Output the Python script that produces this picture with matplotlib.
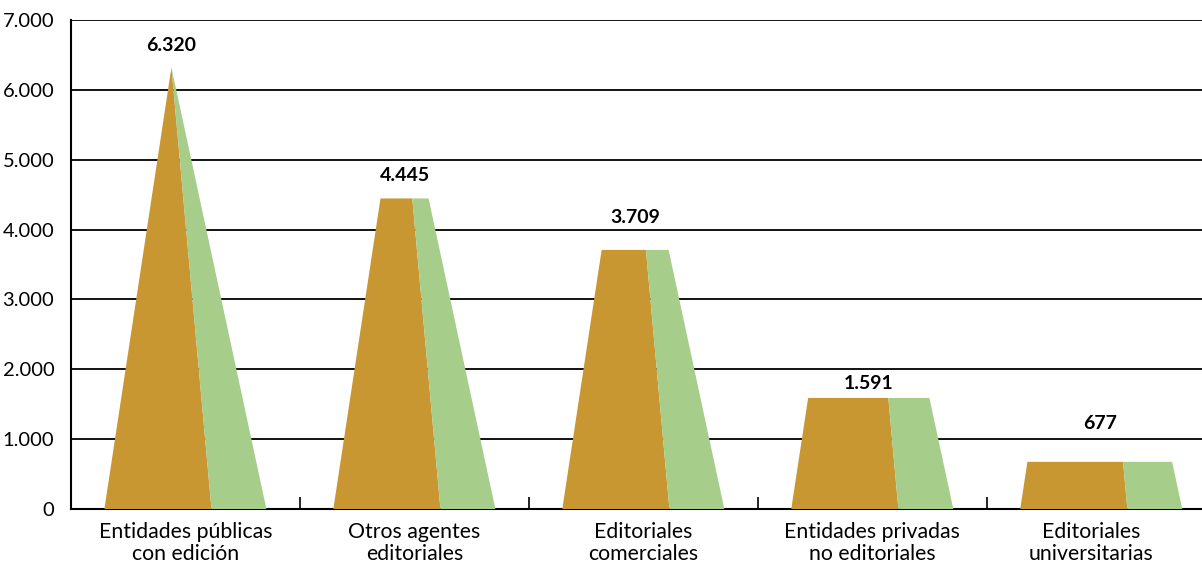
import matplotlib.pyplot as plt
import matplotlib.transforms as mtransforms
import numpy as np

# Data
categories = ['Entidades públicas\ncon edición', 'Otros agentes\neditoriales',
              'Editoriales\ncomerciales', 'Entidades privadas\nno editoriales',
              'Editoriales\nuniversitarias']
values = [6320, 4445, 3709, 1591, 677]
value_labels = ['6.320', '4.445', '3.709', '1.591', '677']
yticks = [0, 1000, 2000, 3000, 4000, 5000, 6000, 7000]
ytick_labels = ['0', '1.000', '2.000', '3.000', '4.000', '5.000', '6.000', '7.000']

# style
orange = '#C99732'
green = '#A6CD8A'
label_gap = [320, 330, 470, 210, 550]  # manual spacing of value labels
label_shift = [0, 0, 0, 0, -0.045]      # last category label is nudged left

plt.rcParams['font.family'] = ['Lato', 'DejaVu Sans']

fig = plt.figure(figsize=(12.02, 5.67), dpi=100)
ax = fig.add_axes([0.059, 0.102, 0.941, 0.863])

# pyramid geometry (in category units)
base_l, base_d, base_r, apex = -0.354, 0.114, 0.354, -0.061
height = max(values)

for i, v in enumerate(values):
    t = v / height
    xl = i + base_l + (apex - base_l) * t
    xd = i + base_d + (apex - base_d) * t
    xr = i + base_r + (apex - base_r) * t
    ax.fill([i + base_l, i + base_d, xd, xl], [0, 0, v, v], color=orange, lw=0, zorder=3)
    ax.fill([i + base_d, i + base_r, xr, xd], [0, 0, v, v], color=green, lw=0, zorder=3)
    ax.text((xl + xr) / 2, v + label_gap[i], value_labels[i], ha='center', va='center',
            fontsize=14, fontweight='bold', zorder=4)

ax.set_xlim(-0.5, 4.44)
ax.set_ylim(0, 7000)
ax.set_yticks(yticks)
ax.set_yticklabels(ytick_labels, fontsize=14.5)

# category labels as text below the axis
trans = mtransforms.blended_transform_factory(ax.transData, ax.transAxes)
for i, cat in enumerate(categories):
    ax.annotate(cat, xy=(i + label_shift[i], 0), xycoords=trans,
                xytext=(0, -9), textcoords='offset points',
                ha='center', va='top', fontsize=15.3, linespacing=1.15)

ax.set_xticks([])
ax.set_xticks(np.arange(0.5, 4.0, 1.0), minor=True)
ax.tick_params(axis='x', which='minor', length=9, direction='in', width=1.2)
ax.tick_params(axis='y', length=0, pad=12)

ax.grid(axis='y', color='black', lw=1.3, zorder=1)
ax.set_axisbelow(True)
for s in ['top', 'right']:
    ax.spines[s].set_visible(False)
for s in ['left', 'bottom']:
    ax.spines[s].set_linewidth(1.5)

plt.savefig('out.png', dpi=100)
